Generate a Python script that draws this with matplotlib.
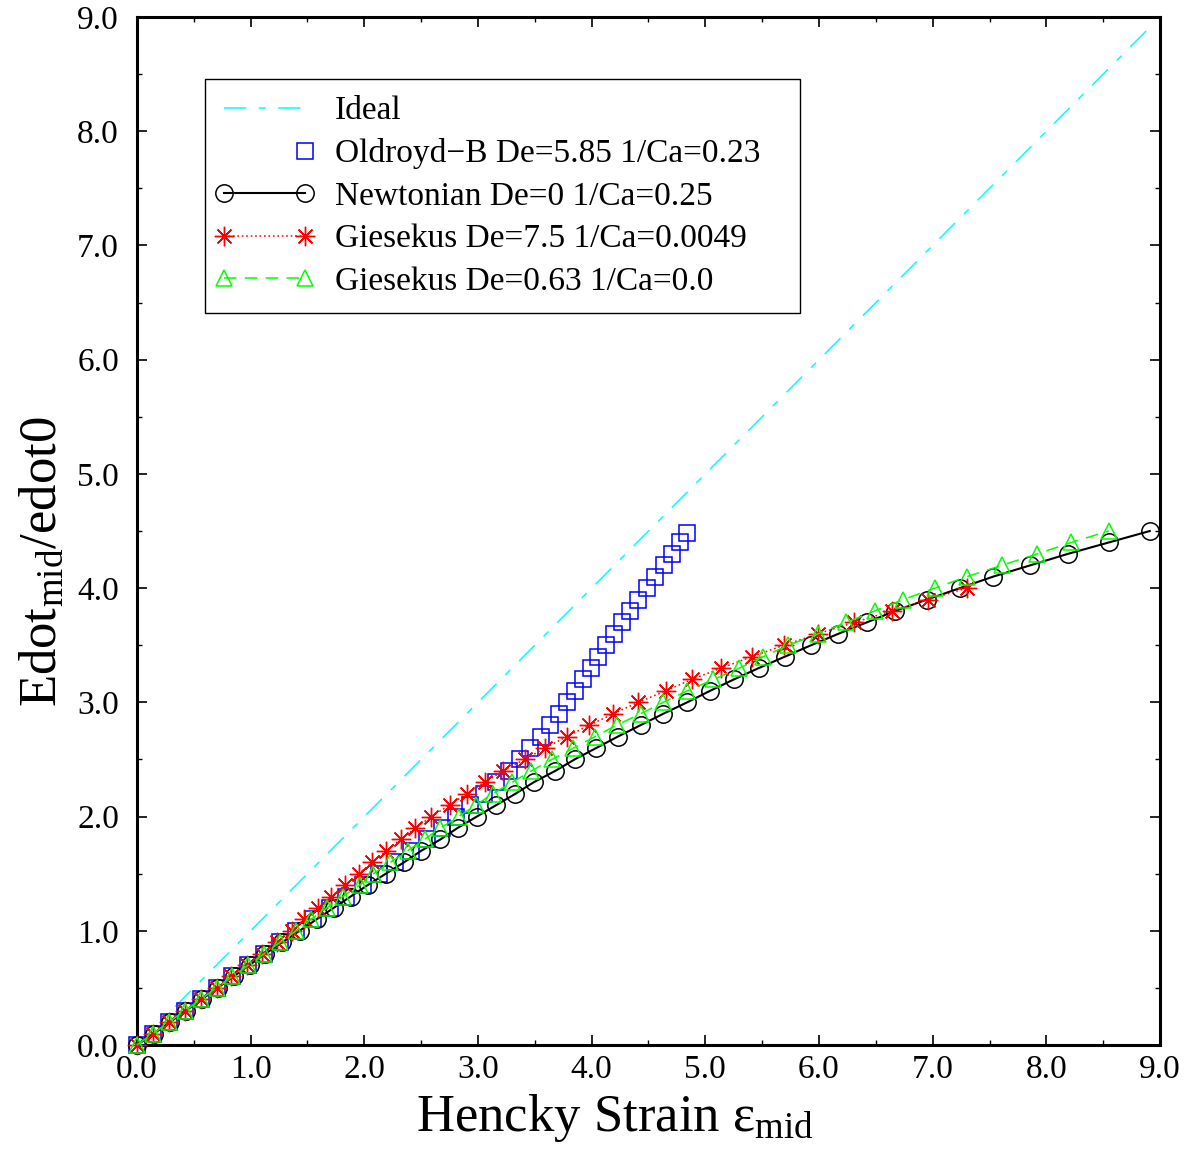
import matplotlib
matplotlib.use('Agg')
import matplotlib.pyplot as plt
from matplotlib.legend_handler import HandlerLine2D
from matplotlib.ticker import MultipleLocator, FormatStrFormatter

plt.rcParams['font.family'] = ['Liberation Serif', 'DejaVu Serif']
plt.rcParams['mathtext.fontset'] = 'custom'
plt.rcParams['mathtext.rm'] = 'Liberation Serif'
plt.rcParams['mathtext.it'] = 'Liberation Serif:italic'
plt.rcParams['lines.scale_dashes'] = False

# ---------------- data ----------------
ideal_x = [0.0, 8.91]
ideal_y = [0.0, 8.91]

old_x = [0.00, 0.14, 0.28, 0.42, 0.56, 0.70, 0.84, 0.98, 1.12, 1.26, 1.40, 1.55, 1.70, 1.84, 1.99,
         2.13, 2.27, 2.41, 2.55, 2.68, 2.81, 2.93, 3.05, 3.16, 3.27, 3.37, 3.46, 3.55, 3.63, 3.71,
         3.78, 3.85, 3.92, 3.99, 4.06, 4.13, 4.20, 4.27, 4.34, 4.41, 4.49, 4.56, 4.64, 4.71, 4.78, 4.84]
old_y = [0.0, 0.1, 0.2, 0.3, 0.4, 0.5, 0.6, 0.7, 0.8, 0.9, 1.0, 1.1, 1.2, 1.3, 1.4,
         1.5, 1.6, 1.7, 1.8, 1.9, 2.0, 2.1, 2.2, 2.3, 2.4, 2.5, 2.6, 2.7, 2.8, 2.9,
         3.0, 3.1, 3.2, 3.3, 3.4, 3.5, 3.6, 3.7, 3.8, 3.9, 4.0, 4.1, 4.2, 4.3, 4.4, 4.48]

newt_x = [0.00, 0.15, 0.29, 0.43, 0.57, 0.71, 0.85, 0.99, 1.13, 1.28, 1.43, 1.58, 1.73, 1.88, 2.03,
          2.19, 2.35, 2.50, 2.67, 2.82, 2.99, 3.16, 3.33, 3.49, 3.68, 3.85, 4.04, 4.23, 4.43, 4.63,
          4.84, 5.04, 5.25, 5.47, 5.70, 5.93, 6.17, 6.42, 6.67, 6.95, 7.24, 7.53, 7.86, 8.19, 8.55, 8.91]
newt_y = [0.0, 0.1, 0.2, 0.3, 0.4, 0.5, 0.6, 0.7, 0.8, 0.9, 1.0, 1.1, 1.2, 1.3, 1.4,
          1.5, 1.6, 1.7, 1.8, 1.9, 2.0, 2.1, 2.2, 2.3, 2.4, 2.5, 2.6, 2.7, 2.8, 2.9,
          3.0, 3.1, 3.2, 3.3, 3.4, 3.5, 3.6, 3.7, 3.8, 3.9, 4.0, 4.1, 4.2, 4.3, 4.4, 4.5]

g75_x = [0.00, 0.14, 0.28, 0.42, 0.56, 0.70, 0.83, 0.97, 1.10, 1.23, 1.36, 1.47, 1.59, 1.71, 1.83,
         1.95, 2.07, 2.19, 2.32, 2.45, 2.59, 2.75, 2.90, 3.06, 3.22, 3.41, 3.59, 3.78, 3.98, 4.19,
         4.41, 4.65, 4.88, 5.14, 5.41, 5.69, 5.99, 6.31, 6.64, 6.96, 7.30]
g75_y = [0.0, 0.1, 0.2, 0.3, 0.4, 0.5, 0.6, 0.7, 0.8, 0.9, 1.0, 1.1, 1.2, 1.3, 1.4,
         1.5, 1.6, 1.7, 1.8, 1.9, 2.0, 2.1, 2.2, 2.3, 2.4, 2.5, 2.6, 2.7, 2.8, 2.9,
         3.0, 3.1, 3.2, 3.3, 3.4, 3.5, 3.6, 3.7, 3.8, 3.9, 4.0]

g063_x = [0.00, 0.14, 0.28, 0.42, 0.56, 0.70, 0.84, 0.98, 1.12, 1.26, 1.40, 1.53, 1.67, 1.81, 1.96,
          2.08, 2.23, 2.38, 2.53, 2.67, 2.83, 2.98, 3.13, 3.30, 3.47, 3.65, 3.84, 4.03, 4.22, 4.43,
          4.63, 4.84, 5.07, 5.30, 5.51, 5.73, 5.99, 6.24, 6.49, 6.74, 7.02, 7.30, 7.61, 7.92, 8.22, 8.55]
g063_y = [0.0, 0.1, 0.2, 0.3, 0.4, 0.5, 0.6, 0.7, 0.8, 0.9, 1.0, 1.1, 1.2, 1.3, 1.4,
          1.5, 1.6, 1.7, 1.8, 1.9, 2.0, 2.1, 2.2, 2.3, 2.4, 2.5, 2.6, 2.7, 2.8, 2.9,
          3.0, 3.1, 3.2, 3.3, 3.4, 3.5, 3.6, 3.7, 3.8, 3.9, 4.0, 4.1, 4.2, 4.3, 4.4, 4.5]

labels = ['Ideal',
          'Oldroyd\u2212B De=5.85 1/Ca=0.23',
          'Newtonian De=0 1/Ca=0.25',
          'Giesekus De=7.5 1/Ca=0.0049',
          'Giesekus De=0.63 1/Ca=0.0']

xticks = [0.0, 1.0, 2.0, 3.0, 4.0, 5.0, 6.0, 7.0, 8.0, 9.0]
yticks = [0.0, 1.0, 2.0, 3.0, 4.0, 5.0, 6.0, 7.0, 8.0, 9.0]

# ---------------- figure ----------------
fig = plt.figure(figsize=(11.9, 11.51), dpi=100)
ax = fig.add_axes([0.1151, 0.0921, 0.8597, 0.8931])

l_ideal, = ax.plot(ideal_x, ideal_y, color='#00ffff', lw=1.1, dashes=(16, 9, 5, 9),
                   label=labels[0], zorder=2)
l_old, = ax.plot(old_x, old_y, ls='none', marker='s', ms=12, mfc='none', mec='#0000ff',
                 mew=1.1, clip_on=False, label=labels[1], zorder=3)
l_newt, = ax.plot(newt_x, newt_y, color='k', lw=1.5, marker='o', ms=12.5, mfc='none',
                  mec='k', mew=1.1, clip_on=False, label=labels[2], zorder=4)
l_g75, = ax.plot(g75_x, g75_y, color='#ff0000', lw=1.1, dashes=(1.2, 2.0), marker=(8, 2, 0),
                 ms=14, mec='#ff0000', mew=1.0, clip_on=False, label=labels[3], zorder=5)
l_g063, = ax.plot(g063_x, g063_y, color='#00ff00', lw=1.1, dashes=(9, 6), marker='^', ms=12,
                  mfc='none', mec='#00ff00', mew=1.1, clip_on=False, label=labels[4], zorder=6)

ax.set_xlim(0, 9)
ax.set_ylim(0, 9)
ax.set_xticks(xticks)
ax.set_yticks(yticks)
ax.xaxis.set_minor_locator(MultipleLocator(0.5))
ax.yaxis.set_minor_locator(MultipleLocator(0.5))
ax.xaxis.set_major_formatter(FormatStrFormatter('%.1f'))
ax.yaxis.set_major_formatter(FormatStrFormatter('%.1f'))
ax.tick_params(which='both', direction='in', top=True, right=True, labelsize=24)
ax.tick_params(which='major', length=7.5, width=1.2)
ax.tick_params(which='minor', length=3.8, width=1.0)
ax.tick_params(axis='x', pad=7)
ax.tick_params(axis='y', pad=13)
for s in ax.spines.values():
    s.set_linewidth(2.2)

ax.set_xlabel(r'Hencky Strain ε$_{\mathrm{mid}}$', fontsize=38)
ax.xaxis.set_label_coords(0.467, -0.046)
ax.set_ylabel(r'Edot$_{\mathrm{mid}}$/edot0', fontsize=38)
ax.yaxis.set_label_coords(-0.069, 0.47)


class RightMarker(HandlerLine2D):
    def create_artists(self, *args, **kwargs):
        arts = super().create_artists(*args, **kwargs)
        arts[0].set_markevery([1])
        return arts


mp = 0.06
hm = {l_ideal: HandlerLine2D(marker_pad=mp),
      l_old: RightMarker(marker_pad=mp),
      l_newt: HandlerLine2D(marker_pad=mp),
      l_g75: HandlerLine2D(marker_pad=mp),
      l_g063: HandlerLine2D(marker_pad=mp)}

leg = ax.legend(handles=[l_ideal, l_old, l_newt, l_g75, l_g063], handler_map=hm,
                loc='upper left', bbox_to_anchor=(0.0665, 0.713, 0.5815, 0.2267),
                mode='expand', borderaxespad=0, fontsize=24, numpoints=2,
                handlelength=2.55, handletextpad=0.84, borderpad=0.5, labelspacing=0.36,
                fancybox=False, framealpha=1, edgecolor='k')
leg.get_frame().set_linewidth(1.0)

fig.savefig('out.png', dpi=100)
